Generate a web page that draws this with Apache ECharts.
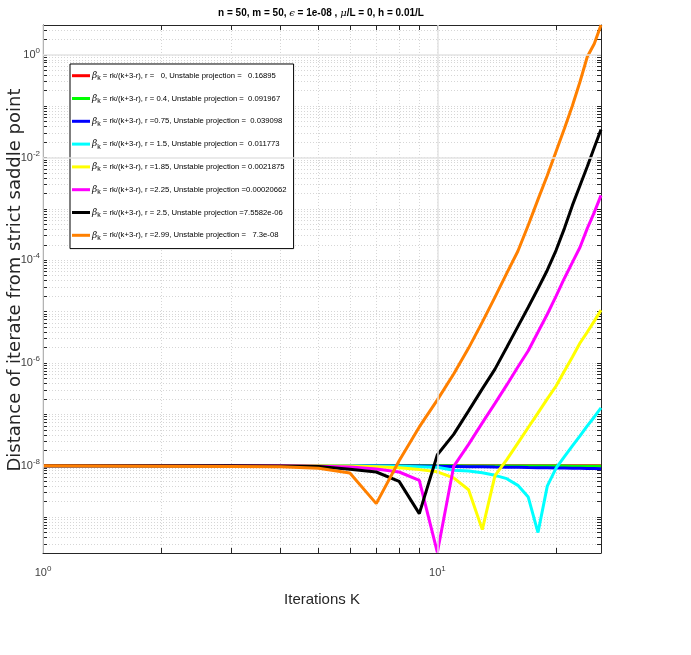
<!DOCTYPE html>
<html>
<head>
<meta charset="utf-8">
<script src="https://cdn.jsdelivr.net/npm/echarts@6/dist/echarts.min.js"></script>
<style>
html, body { margin: 0; padding: 0; background: #fff; }
#chart { width: 691px; height: 655px; }
</style>
</head>
<body>
<div id="chart"></div>
<script>
// iterations K (x axis)
const iterations = [1, 2, 3, 4, 5, 6, 7, 8, 9, 10, 11, 12, 13, 14, 15, 16, 17, 18, 19, 20, 21, 22, 23, 24, 25, 26];

// legend tails, one per r value
const legendLabels = [
    "r =   0, Unstable projection =   0.16895",
    "r = 0.4, Unstable projection =  0.091967",
    "r =0.75, Unstable projection =  0.039098",
    "r = 1.5, Unstable projection =  0.011773",
    "r =1.85, Unstable projection = 0.0021875",
    "r =2.25, Unstable projection =0.00020662",
    "r = 2.5, Unstable projection =7.5582e-06",
    "r =2.99, Unstable projection =   7.3e-08",
];
const lineColors = ["#ff0000", "#00ff00", "#0000ff", "#00ffff", "#ffff00", "#ff00ff", "#000000", "#ff8000"];

// distance of iterate from the saddle point
const distR0 = [1.0e-8, 1.0e-8, 1.0e-8, 1.0e-8, 1.0e-8, 1.0e-8, 1.0e-8, 1.0e-8, 1.0e-8, 1.0e-8, 1.0e-8, 1.0e-8, 1.0e-8,
    1.0e-8, 1.0e-8, 1.0e-8, 1.0e-8, 1.0e-8, 1.0e-8, 1.0e-8, 1.0e-8, 1.0e-8, 1.0e-8, 1.0e-8, 1.0e-8, 1.0e-8];
const distR04 = [1.0e-8, 1.0e-8, 1.0e-8, 1.0e-8, 1.0e-8, 1.0e-8, 9.98e-9, 9.97e-9, 9.96e-9, 9.95e-9, 9.94e-9, 9.93e-9, 9.92e-9,
    9.9e-9, 9.89e-9, 9.88e-9, 9.87e-9, 9.86e-9, 9.85e-9, 9.84e-9, 9.83e-9, 9.82e-9, 9.81e-9, 9.8e-9, 9.78e-9, 9.76e-9];
const distR075 = [1.0e-8, 1.0e-8, 1.0e-8, 1.0e-8, 1.0e-8, 1.0e-8, 9.95e-9, 9.9e-9, 9.85e-9, 9.8e-9, 9.7e-9, 9.6e-9, 9.5e-9,
    9.4e-9, 9.35e-9, 9.3e-9, 9.2e-9, 9.15e-9, 9.1e-9, 9.05e-9, 9.0e-9, 8.95e-9, 8.9e-9, 8.85e-9, 8.8e-9, 8.75e-9];
const distR15 = [1.0e-8, 1.0e-8, 1.0e-8, 1.0e-8, 1.0e-8, 9.95e-9, 9.9e-9, 9.8e-9, 9.6e-9, 9.3e-9, 8.2e-9, 7.9e-9, 7.3e-9,
    6.5e-9, 5.6e-9, 4.15e-9, 2.45e-9, 5.0e-10, 4.0e-9, 9.0e-9, 1.5e-8, 2.44e-8, 3.82e-8, 5.98e-8, 8.9e-8, 1.34e-7];
const distR185 = [1.0e-8, 1.0e-8, 1.0e-8, 1.0e-8, 9.95e-9, 9.9e-9, 9.6e-9, 9.1e-9, 8.4e-9, 7.6e-9, 5.8e-9, 3.4e-9, 5.7e-10,
    6.4e-9, 1.31e-8, 2.76e-8, 5.55e-8, 1.07e-7, 2.0e-7, 3.57e-7, 7.0e-7, 1.31e-6, 2.45e-6, 4.0e-6, 6.54e-6, 1.07e-5];
const distR225 = [1.0e-8, 1.0e-8, 1.0e-8, 9.95e-9, 9.8e-9, 9.4e-9, 8.6e-9, 7.55e-9, 5.2e-9, 2.05e-10, 9.7e-9, 2.61e-8, 6.84e-8,
    1.64e-7, 3.74e-7, 8.36e-7, 1.73e-6, 4.0e-6, 8.9e-6, 2.0e-5, 4.47e-5, 9.1e-5, 1.79e-4, 4.18e-4, 8.55e-4, 1.83e-3];
const distR25 = [1.0e-8, 1.0e-8, 9.95e-9, 9.9e-9, 9.7e-9, 8.5e-9, 7.55e-9, 4.96e-9, 1.17e-9, 1.64e-8, 4.07e-8, 1.17e-7, 3.13e-7,
    7.6e-7, 2.02e-6, 5.1e-6, 1.22e-5, 2.82e-5, 6.4e-5, 1.56e-4, 4.18e-4, 1.17e-3, 2.86e-3, 6.68e-3, 1.56e-2, 3.5e-2];
const distR299 = [1.0e-8, 9.8e-9, 9.7e-9, 9.5e-9, 8.9e-9, 7.2e-9, 1.83e-9, 1.25e-8, 5.7e-8, 1.91e-7, 6.1e-7, 1.95e-6, 6.25e-6,
    1.91e-5, 5.6e-5, 1.5e-4, 4.8e-4, 1.53e-3, 4.47e-3, 1.31e-2, 3.66e-2, 0.102, 0.299, 0.915, 1.64, 3.8];

const allDist = [distR0, distR04, distR075, distR15, distR185, distR225, distR25, distR299];

// tick positions
const xLabelTicks = [1, 10];
const xMinorTicks = [1, 2, 3, 4, 5, 6, 7, 8, 9, 10, 20];
const yLabelTicks = [1e-8, 1e-6, 1e-4, 1e-2, 1];
const yMinorTicks = [];
for (let e = -10; e <= 0; e++) {
    for (let m = 1; m <= 9; m++) {
        yMinorTicks.push(Number((m + "e" + e)));
    }
}

const FONT = "'Liberation Sans', Arial, sans-serif";
const AXIS_COLOR = "#262626";

function powLabel(v) {
    const e = Math.round(Math.log10(v));
    return "{b|10}{s|" + e + "}";
}
const powRich = {
    b: { fontSize: 11, color: "#404040", fontFamily: FONT },
    s: { fontSize: 8, color: "#404040", fontFamily: FONT, verticalAlign: "bottom", padding: [0, 0, 8, 0] },
};

const chart = echarts.init(document.getElementById("chart"));

const series = allDist.map((vals, i) => ({
    name: legendLabels[i],
    type: "line",
    data: iterations.map((k, j) => [k, vals[j]]),
    showSymbol: false,
    symbol: "none",
    lineStyle: { width: 3, color: lineColors[i] },
    itemStyle: { color: lineColors[i] },
    animation: false,
}));

const option = {
    animation: false,
    backgroundColor: "#fff",
    title: {
        text: "n = 50, m = 50, {i|ϵ} = 1e-08 , {i|μ}/L = 0, h = 0.01/L",
        left: 316,
        textAlign: "center",
        top: 3,
        textStyle: {
            fontFamily: FONT,
            fontSize: 10,
            fontWeight: "bold",
            color: "#000",
            rich: {
                i: { fontFamily: "'DejaVu Serif', serif", fontStyle: "italic", fontSize: 10, fontWeight: "normal", color: "#000" },
            },
        },
    },
    legend: {
        orient: "vertical",
        left: 70,
        top: 64,
        icon: "rect",
        itemWidth: 18,
        itemHeight: 3,
        itemGap: 8.8,
        padding: [4.7, 7, 6.3, 2],
        backgroundColor: "#fff",
        borderColor: "#000",
        borderWidth: 1,
        borderRadius: 0,
        data: legendLabels,
        formatter: (name) => "{b|β}{k|k}{t| = rk/(k+3-r), " + name + "}",
        textStyle: {
            fontFamily: FONT,
            fontSize: 7.7,
            color: "#000",
            lineHeight: 14,
            rich: {
                b: { fontFamily: "'DejaVu Serif', serif", fontStyle: "italic", fontSize: 9, color: "#000", lineHeight: 14, padding: [0, 0, 0, -3] },
                k: { fontFamily: FONT, fontSize: 7, color: "#000", lineHeight: 8, verticalAlign: "top", padding: [6, 0, 0, 0] },
                t: { fontFamily: FONT, fontSize: 7.7, color: "#000", lineHeight: 14 },
            },
        },
    },
    grid: { left: 43, right: 90, top: 25, bottom: 102, containLabel: false, outerBoundsMode: "none" },
    xAxis: [
        {
            type: "log",
            min: 1,
            max: 26,
            position: "bottom",
            name: "Iterations K",
            nameLocation: "middle",
            nameGap: 39,
            nameMoveOverlap: false,
            nameTextStyle: { fontFamily: FONT, fontSize: 15, color: AXIS_COLOR },
            axisLine: { show: true, lineStyle: { color: AXIS_COLOR, width: 1 } },
            axisTick: { show: true, inside: true, length: 5, customValues: xMinorTicks, lineStyle: { color: AXIS_COLOR } },
            axisLabel: { customValues: xLabelTicks, margin: 12, formatter: powLabel, rich: powRich },
            splitLine: { show: true, lineStyle: { color: "#d6d6d6", type: [1, 2], width: 1 } },
        },
        {
            type: "log",
            min: 1,
            max: 26,
            position: "top",
            axisLine: { show: true, lineStyle: { color: AXIS_COLOR, width: 1 } },
            axisTick: { show: true, inside: true, length: 5, customValues: xMinorTicks, lineStyle: { color: AXIS_COLOR } },
            axisLabel: { show: false },
            splitLine: { show: false },
        },
    ],
    yAxis: [
        {
            type: "log",
            min: 2.0e-10,
            max: 3.8,
            position: "left",
            name: "Distance of iterate from strict saddle point",
            nameLocation: "middle",
            nameGap: 19,
            nameMoveOverlap: false,
            nameTextStyle: { fontFamily: "'DejaVu Sans', sans-serif", fontSize: 18, color: AXIS_COLOR, padding: [0, 0, 0, 18] },
            axisLine: { show: true, lineStyle: { color: AXIS_COLOR, width: 1 } },
            axisTick: { show: true, inside: true, length: 4, customValues: yMinorTicks, lineStyle: { color: AXIS_COLOR } },
            axisLabel: { customValues: yLabelTicks, margin: 3, formatter: powLabel, rich: powRich },
            splitLine: { show: true, lineStyle: { color: "#d6d6d6", type: [1, 2], width: 1 } },
        },
        {
            type: "log",
            min: 2.0e-10,
            max: 3.8,
            position: "right",
            axisLine: { show: true, lineStyle: { color: AXIS_COLOR, width: 1 } },
            axisTick: { show: true, inside: true, length: 4, customValues: yMinorTicks, lineStyle: { color: AXIS_COLOR } },
            axisLabel: { show: false },
            splitLine: { show: false },
        },
    ],
    series: [
        {
            // major grid lines at the labelled decades
            type: "line",
            data: [],
            silent: true,
            markLine: {
                silent: true,
                symbol: "none",
                label: { show: false },
                lineStyle: { color: "#e3e3e3", type: "solid", width: 1.5 },
                data: xLabelTicks.map((v) => ({ xAxis: v })).concat(yLabelTicks.map((v) => ({ yAxis: v }))),
                animation: false,
            },
        },
    ].concat(series),
};

chart.setOption(option);
</script>
</body>
</html>
